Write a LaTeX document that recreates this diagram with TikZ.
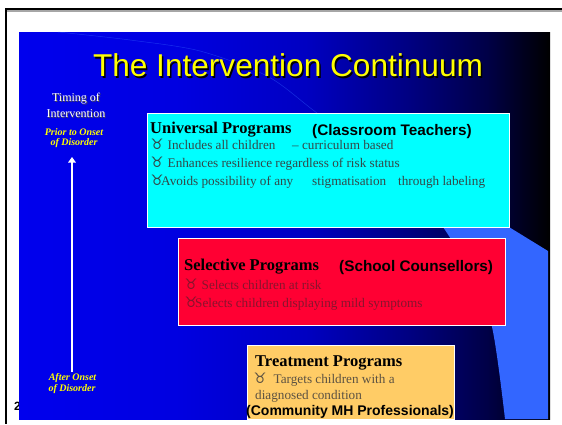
\documentclass[tikz,border=0pt]{standalone}
\usepackage{fontspec}
\setmainfont{Liberation Serif}
\newfontfamily\headfont{Liberation Sans}
\newfontfamily\glyphfont{DejaVu Sans}
\usepackage{tikz}
\usetikzlibrary{arrows.meta}

\definecolor{slideyellow}{RGB}{255,255,0}
\definecolor{boxcyan}{RGB}{0,255,255}
\definecolor{boxred}{RGB}{255,0,51}
\definecolor{boxgold}{RGB}{255,204,102}
\definecolor{ringblue}{RGB}{51,102,255}
\definecolor{cyantext}{RGB}{51,72,72}
\definecolor{redtext}{RGB}{135,20,45}
\definecolor{goldtext}{RGB}{92,82,66}

% blue-to-black slide background (inner 25bp..75bp fills the path)
\pgfdeclarehorizontalshading{slidebg}{100bp}{
  color(0bp)=(blue!93!black); color(25bp)=(blue!93!black);
  color(40bp)=(blue!88!black); color(52bp)=(blue!76!black);
  color(62bp)=(blue!50!black); color(69bp)=(blue!28!black);
  color(75bp)=(black); color(100bp)=(black)}

% taurus bullet, set in the symbol font
\newcommand{\tb}{{\glyphfont\fontsize{14.5}{15}\selectfont ♉}}

\begin{document}
\begin{tikzpicture}[
  x=1pt, y=-1pt,
  >={Triangle[width=7.5pt,length=5.5pt]},
  title/.style={font=\headfont\fontsize{31.6}{34}\selectfont, anchor=base, inner sep=0pt},
  side/.style={font=\fontsize{12}{14}\selectfont, anchor=base, inner sep=0pt},
  onset/.style={font=\bfseries\itshape\fontsize{10}{12}\selectfont,
    text=slideyellow, anchor=base, inner sep=0pt},
  panel/.style={draw=white, line width=1pt, anchor=north west, inner sep=0pt},
  prog/.style={font=\bfseries\fontsize{16.5}{18}\selectfont, anchor=base west, inner sep=0pt},
  who/.style={font=\headfont\bfseries\fontsize{15.3}{17}\selectfont, anchor=base west, inner sep=0pt},
  point/.style={font=\fontsize{13.2}{15}\selectfont, anchor=base west, inner sep=0pt}
]
\useasboundingbox (0,0) rectangle (562,424);

%% ── PAGE FRAME ──────────────────────────────────────────────────
\fill (5,8.3) rectangle (562,10.3);
\fill[black!35] (7,10.3) rectangle (562,11.7);
\fill (5,8.3) rectangle (7,424);
\node[font=\headfont\bfseries\fontsize{12}{12}\selectfont, anchor=base west, inner sep=0pt]
  (pageno) at (14,410) {2};

%% ── SLIDE BACKGROUND ────────────────────────────────────────────
\shade[shading=slidebg] (19,32) rectangle (550,419);
\draw[ringblue, line width=0.5pt, opacity=0.45]
  plot[smooth] coordinates {(58,32) (130,40) (200,51) (267,76) (313,110) (380,162) (425,207)};
\fill[ringblue]
  plot[smooth] coordinates {(425,207) (443,227) (470,272) (492,327) (505,419)}
  -- (548,419) -- (548,251) -- (478,208) -- cycle;

%% ── TITLE ───────────────────────────────────────────────────────
\node[title, text=black] (titleshade) at (289.5,78.2) {The Intervention Continuum};
\node[title, text=slideyellow] (title) at (288,76.7) {The Intervention Continuum};

%% ── TIMING AXIS ─────────────────────────────────────────────────
\node[side, text=black!70] at (76.8,102.5) {Timing of};
\node[side, text=white] (timing) at (76,101.7) {Timing of};
\node[side, text=black!70] at (76.8,118) {Intervention};
\node[side, text=white] (interv) at (76,117.2) {Intervention};
\node[onset] (prior) at (74,135.5) {Prior to Onset};
\node[onset] (prior2) at (74,145) {of Disorder};
\node[onset] (after) at (72.5,380) {After Onset};
\node[onset] (after2) at (72,391.7) {of Disorder};

\coordinate (late) at (72,372);
\coordinate (early) at (72,157);
\draw[->, white, line width=2.7pt] (late) -- (early);

%% ── UNIVERSAL ───────────────────────────────────────────────────
\node[panel, fill=boxcyan, minimum width=362pt, minimum height=114pt] (univ) at (147,113) {};
\node[prog] (univhead) at (150,133) {Universal Programs};
\node[who] (univwho) at (312,135) {(Classroom Teachers)};
\node[point, text=cyantext] (u1a) at (150.5,149) {\tb\hspace{4pt}Includes all children};
\node[point, text=cyantext] (u1b) at (292,149) {– curriculum based};
\node[point, text=cyantext] (u2) at (150.5,167) {\tb\hspace{4pt}Enhances resilience regardless of risk status};
\node[point, text=cyantext] (u3a) at (150.5,185) {\tb\hspace{-2.5pt}Avoids possibility of any};
\node[point, text=cyantext] (u3b) at (312,185) {stigmatisation};
\node[point, text=cyantext] (u3c) at (398,185) {through labeling};

%% ── SELECTIVE ───────────────────────────────────────────────────
\node[panel, fill=boxred, minimum width=327pt, minimum height=87pt] (sel) at (178,238) {};
\node[prog] (selhead) at (184,270) {Selective Programs};
\node[who] (selwho) at (339,271) {(School Counsellors)};
\node[point, text=redtext] (s1) at (184.5,289) {\tb\hspace{4pt}Selects children at risk};
\node[point, text=redtext] (s2) at (184.5,307) {\tb\hspace{-2.5pt}Selects children displaying mild symptoms};

%% ── TREATMENT ───────────────────────────────────────────────────
\node[panel, fill=boxgold, minimum width=207pt, minimum height=74pt] (treat) at (247,345) {};
\node[prog] (treathead) at (255,366) {Treatment Programs};
\node[point, text=goldtext] (t1) at (253.5,383) {\tb\hspace{7pt}Targets children with a};
\node[point, text=goldtext] (t2) at (255,399) {diagnosed condition};
\node[who, font=\headfont\bfseries\fontsize{14}{16}\selectfont] (treatwho) at (246,415)
  {(Community MH Professionals)};

\end{tikzpicture}
\end{document}
